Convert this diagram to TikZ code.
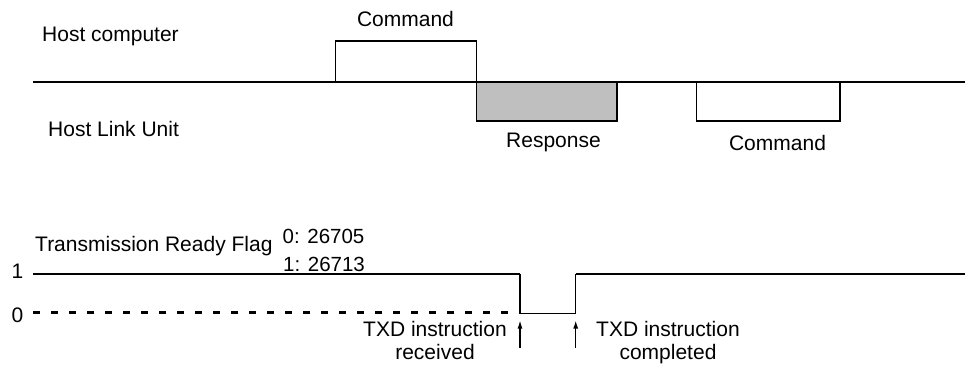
\documentclass[tikz,border=0pt]{standalone}
\usepackage{fontspec}
\setmainfont{Liberation Sans}
\usetikzlibrary{arrows.meta}
\begin{document}
\begin{tikzpicture}[x=1pt,y=-1pt,
  lbl/.style={inner sep=0pt,font=\fontsize{21}{23}\selectfont},
  num/.style={inner sep=0pt,font=\fontsize{20.5}{23}\selectfont},
  thickln/.style={line width=2.8pt},
  thinln/.style={line width=1.3pt},
  dashln/.style={line width=2.5pt,dash pattern=on 7pt off 11pt},
  arr/.style={line width=1.2pt,-{Latex[length=8pt,width=5pt]}}
]
\useasboundingbox (0,0) rectangle (965,366);
% ---- top timing ----
\coordinate (tl) at (33,82);
\coordinate (tr) at (965,82);
\draw[thickln] (tl) -- (tr);
\draw[thinln] (335.7,82) -- (335.7,41) -- (476.7,41) -- (476.7,82);
\filldraw[fill=gray!50,thinln] (476.7,82) rectangle (617,121);
\draw[thinln] (696.7,82) -- (696.7,121) -- (840,121) -- (840,82);
\node[lbl,anchor=base] (cmd1) at (405.5,27) {Command};
\node[lbl,anchor=base] (resp) at (553.5,148) {Response};
\node[lbl,anchor=base] (cmd2) at (777.5,150) {Command};
\node[lbl,anchor=base west] (hc) at (42,42) {Host computer};
\node[lbl,anchor=base west] (hlu) at (48,137) {Host Link Unit};
% ---- bottom timing ----
\node[lbl,anchor=base west] (trf) at (35,251.7) {Transmission Ready Flag};
\node[num,anchor=base west] (n0) at (282.5,243) {0: 26705};
\node[num,anchor=base west] (n1) at (283,271) {1: 26713};
\node[lbl,anchor=base] (one) at (17.5,278.5) {1};
\node[lbl,anchor=base] (zero) at (17.5,322) {0};
\coordinate (s0) at (33,274);
\coordinate (s1) at (520,274);
\coordinate (s2) at (520,313.3);
\coordinate (s3) at (575.7,313.3);
\coordinate (s4) at (575.7,274);
\coordinate (s5) at (965,274);
\draw[thickln] (s0) -- (s1);
\draw[thinln] (s1) -- (s2) -- (s3) -- (s4);
\draw[thickln] (s4) -- (s5);
\coordinate (d0) at (33,312.5);
\coordinate (d1) at (518,312.5);
\draw[dashln] (d0) -- (d1);
\coordinate (a1s) at (520,348);
\coordinate (a1e) at (520,320.5);
\coordinate (a2s) at (575.7,348);
\coordinate (a2e) at (575.7,320.5);
\draw[arr] (a1s) -- (a1e);
\draw[arr] (a2s) -- (a2e);
\node[lbl,align=center,anchor=north] (rcv) at (435,321) {TXD instruction\\received};
\node[lbl,align=center,anchor=north] (cmp) at (668,321) {TXD instruction\\completed};
\end{tikzpicture}
\end{document}
